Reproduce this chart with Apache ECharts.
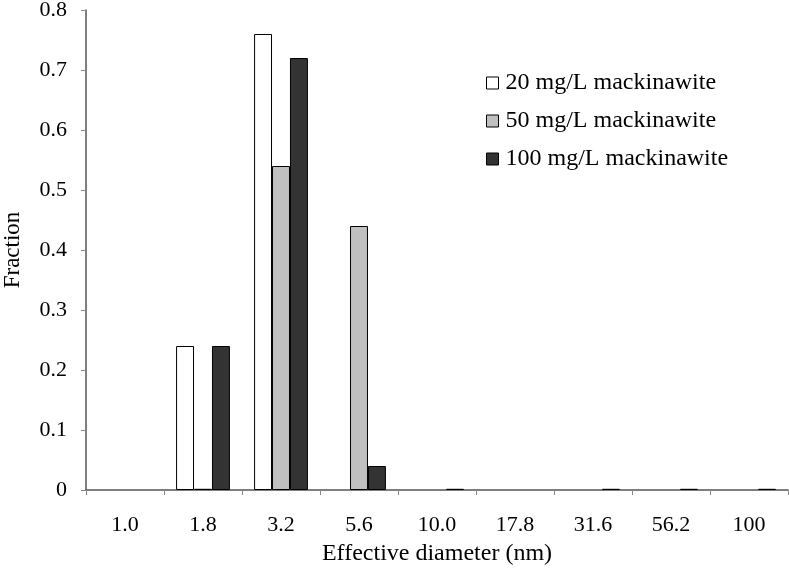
<!DOCTYPE html>
<html><head><meta charset="utf-8">
<script src="https://cdn.jsdelivr.net/npm/echarts@6/dist/echarts.min.js"></script>
<style>html,body{margin:0;padding:0;background:#fff}#c{width:789px;height:571px}</style>
</head><body><div id="c"></div>
<script>
const categories = ['1.0','1.8','3.2','5.6','10.0','17.8','31.6','56.2','100'];
const s20 = [0, 0.24, 0.76, 0, 0, 0, 0, 0, 0];
const s50 = [0, 0.002, 0.54, 0.44, 0, 0, 0, 0, 0];
const s100 = [0, 0.24, 0.72, 0.04, 0.002, 0, 0.002, 0.002, 0.002];
const names = ['20 mg/L mackinawite','50 mg/L mackinawite','100 mg/L mackinawite'];
const colors = ['#ffffff','#c0c0c0','#333333'];
const font = '"Liberation Serif", "Times New Roman", serif';
const chart = echarts.init(document.getElementById('c'));
const mk = (i, d) => ({
  name: names[i], type: 'bar', barGap: '0%', barCategoryGap: '31%',
  data: d.map(v => v === 0 ? {value: 0, itemStyle: {borderWidth: 0}} : v),
  itemStyle: {color: colors[i], borderColor: '#000', borderWidth: 1}
});
chart.setOption({
  animation: false,
  backgroundColor: '#fff',
  grid: {left: 86, right: 1, top: 10, bottom: 81, containLabel: false, outerBoundsMode: 'none'},
  legend: {
    orient: 'vertical', left: 481, top: 66, itemGap: 14, itemWidth: 12, itemHeight: 12,
    icon: 'rect',
    textStyle: {fontFamily: font, fontSize: 24, color: '#000', padding: [0, 0, 0, 2]},
    itemStyle: {borderColor: '#000', borderWidth: 1}
  },
  xAxis: {
    type: 'category', data: categories,
    name: 'Effective diameter (nm)', nameLocation: 'middle', nameGap: 52,
    nameTextStyle: {fontFamily: font, fontSize: 24, color: '#000'},
    axisLine: {lineStyle: {color: '#555', width: 1.5}},
    axisTick: {show: true, inside: false, length: 5, lineStyle: {color: '#888'}},
    axisLabel: {fontFamily: font, fontSize: 22, color: '#000', margin: 24},
    splitLine: {show: false}
  },
  yAxis: {
    type: 'value', min: 0, max: 0.8, interval: 0.1,
    name: 'Fraction', nameLocation: 'middle', nameGap: 62,
    nameTextStyle: {fontFamily: font, fontSize: 23, color: '#000'},
    axisLine: {show: true, lineStyle: {color: '#555', width: 1.5}},
    axisTick: {show: true, length: 5, lineStyle: {color: '#888'}},
    axisLabel: {fontFamily: font, fontSize: 22, color: '#000', margin: 19,
      formatter: v => v === 0 ? '0' : v.toFixed(1)},
    splitLine: {show: false}
  },
  series: [mk(0, s20), mk(1, s50), mk(2, s100)]
});
</script></body></html>
